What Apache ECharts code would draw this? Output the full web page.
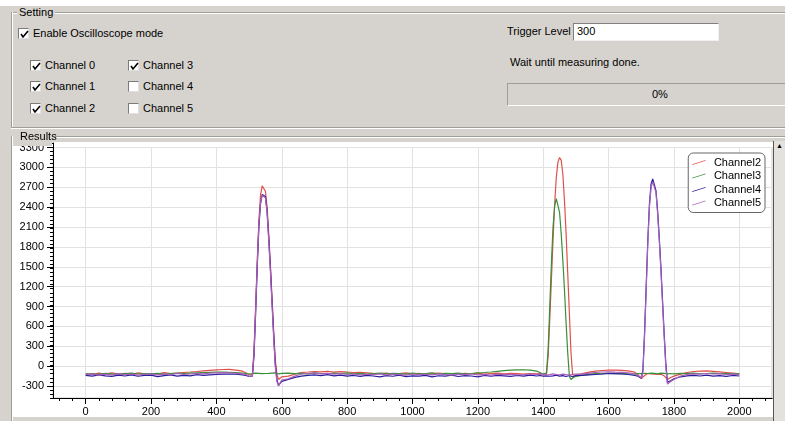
<!DOCTYPE html>
<html>
<head>
<meta charset="utf-8">
<script src="https://cdn.jsdelivr.net/npm/echarts@6/dist/echarts.min.js"></script>
<style>
  body { margin: 0; width: 785px; height: 421px; overflow: hidden; position: relative;
         background: #d6d3ce; font-family: "Liberation Sans", Arial, sans-serif; font-size: 11px; color: #000; }
  .abs { position: absolute; white-space: nowrap; }
  .hline { position: absolute; height: 0; border-top: 1px solid #a09e98; border-bottom: 1px solid #fff; }
  .vline { position: absolute; width: 0; border-left: 1px solid #a09e98; border-right: 1px solid #fff; }
  .cb { position: absolute; width: 11px; height: 11px; background: #fff; box-sizing: border-box;
        border: 1px solid #7a7a7a; border-right-color: #e0e0e0; border-bottom-color: #e0e0e0; }
  .cb svg { position: absolute; left: 1px; top: 1px; }
  .lbl { position: absolute; line-height: 13px; white-space: nowrap; }
</style>
</head>
<body>
<div class="abs" style="left:0;top:0;width:785px;height:6px;background:#fff"></div>

<!-- Setting group -->
<div class="hline" style="left:55px;top:12px;width:730px"></div>
<div class="hline" style="left:11px;top:12px;width:6px"></div>
<div class="vline" style="left:11px;top:12px;height:116px"></div>
<div class="hline" style="left:11px;top:127px;width:774px"></div>
<div class="lbl" style="left:19px;top:6px">Setting</div>

<div class="cb" style="left:18px;top:28px"><svg width="9" height="9"><polyline points="1,4 3,7 8,1" fill="none" stroke="#000" stroke-width="1.6"/></svg></div>
<div class="lbl" style="left:33px;top:27px">Enable Oscilloscope mode</div>

<div class="cb" style="left:30px;top:60px"><svg width="9" height="9"><polyline points="1,4 3,7 8,1" fill="none" stroke="#000" stroke-width="1.6"/></svg></div>
<div class="lbl" style="left:45px;top:59px">Channel 0</div>
<div class="cb" style="left:30px;top:81px"><svg width="9" height="9"><polyline points="1,4 3,7 8,1" fill="none" stroke="#000" stroke-width="1.6"/></svg></div>
<div class="lbl" style="left:45px;top:80px">Channel 1</div>
<div class="cb" style="left:30px;top:103px"><svg width="9" height="9"><polyline points="1,4 3,7 8,1" fill="none" stroke="#000" stroke-width="1.6"/></svg></div>
<div class="lbl" style="left:45px;top:102px">Channel 2</div>

<div class="cb" style="left:128px;top:60px"><svg width="9" height="9"><polyline points="1,4 3,7 8,1" fill="none" stroke="#000" stroke-width="1.6"/></svg></div>
<div class="lbl" style="left:143px;top:59px">Channel 3</div>
<div class="cb" style="left:128px;top:81px"></div>
<div class="lbl" style="left:143px;top:80px">Channel 4</div>
<div class="cb" style="left:128px;top:103px"></div>
<div class="lbl" style="left:143px;top:102px">Channel 5</div>

<div class="lbl" style="left:507px;top:25px">Trigger Level</div>
<div class="abs" style="left:573px;top:23px;width:146px;height:18px;background:#fff;box-sizing:border-box;border:1px solid #808080;border-right-color:#f0f0f0;border-bottom-color:#f0f0f0"></div>
<div class="lbl" style="left:577px;top:25px">300</div>
<div class="lbl" style="left:510px;top:56px">Wait until measuring done.</div>
<div class="abs" style="left:507px;top:83px;width:290px;height:23px;box-sizing:border-box;border:1px solid #a09e98;border-right-color:#fff;border-bottom-color:#fff"></div>
<div class="lbl" style="left:652px;top:88px">0%</div>

<!-- Results group -->
<div class="hline" style="left:55px;top:136px;width:730px"></div>
<div class="vline" style="left:11px;top:136px;height:285px"></div>

<div id="chart" class="abs" style="left:13px;top:142px;width:760px;height:275px;background:#fff"></div>
<!-- the group header hides the top of the highest y label -->
<div class="abs" style="left:13px;top:138px;width:39px;height:8px;background:#d6d3ce"></div>
<div class="lbl" style="left:20px;top:130px">Results</div>
<div class="abs" style="left:773px;top:141px;width:12px;height:280px;background:#e4e2dc;border-left:1px solid #555"></div>
<div class="abs" style="left:776px;top:142px;font-size:7px;line-height:8px">&#9650;</div>

<script>
// sample positions (x axis)
var xs = [
  0, 20, 40, 60, 80, 100, 120, 140, 160, 180, 200, 220, 240, 260, 280, 300, 320, 340, 360, 380, 400, 420, 440, 460, 480,
  490, 495, 500, 505, 510, 515, 520, 525, 530, 535, 540, 545, 550, 555, 560, 565, 570, 575, 580, 585, 590, 595, 600,
  620, 640, 660, 680, 700, 720, 740, 760, 780, 800, 820, 840, 860, 880, 900, 920, 940, 960, 980, 1000,
  1020, 1040, 1060, 1080, 1100, 1120, 1140, 1160, 1180, 1200, 1220, 1240, 1260, 1280, 1300, 1320, 1340, 1360, 1380,
  1390, 1395, 1400, 1405, 1410, 1415, 1420, 1425, 1430, 1435, 1440, 1445, 1450, 1455, 1460, 1465, 1470, 1475, 1480, 1485, 1490, 1495, 1500,
  1520, 1540, 1560, 1580, 1600, 1620, 1640, 1660, 1680,
  1690, 1695, 1700, 1705, 1710, 1715, 1720, 1725, 1730, 1735, 1740, 1745, 1750, 1755, 1760, 1765, 1770, 1775, 1780, 1785, 1790,
  1800, 1820, 1840, 1860, 1880, 1900, 1920, 1940, 1960, 1980, 2000
];

var ch2 = [
  -110, -125, -105, -120, -100, -118, -108, -125, -102, -115, -110, -120, -98, -112, -105, -95, -88, -80, -70, -62, -55, -50, -48, -58, -75,
  -100, -110, -125, -135, -130, 250, 900, 1600, 2200, 2580, 2720, 2730, 2640, 2400, 2000, 1550, 1050, 550, 100, -120, -200, -190, -160,
  -150, -120, -95, -88, -80, -85, -78, -90, -82, -88, -95, -92, -100, -108, -112, -105, -118, -110, -102, -115,
  -108, -120, -112, -105, -116, -110, -122, -108, -114, -104, -118, -110, -106, -115, -108, -112, -120, -110, -115,
  -110, -118, -125, -130, -120, 150, 700, 1300, 1900, 2450, 2850, 3080, 3150, 3110, 2900, 2500, 2000, 1400, 800, 200, -130, -150, -140,
  -110, -90, -75, -65, -60, -58, -62, -70, -90,
  -130, -160, -185, -160, -140, -120, -110, -125, -118, -115, -120, -112, -125, -118, -122, -130, -145, -165, -200, -210, -170,
  -150, -120, -95, -80, -75, -72, -78, -85, -95, -105, -115
];

var ch3 = [
  -118, -110, -122, -108, -115, -120, -112, -105, -118, -110, -116, -108, -120, -112, -106, -110, -104, -100, -96, -92, -90, -88, -92, -98, -105,
  -110, -105, -118, -108, -112, -100, -105, -115, -108, -102, -112, -104, -110, -100, -108, -96, -104, -110, -100, -112, -115, -106, -108,
  -105, -112, -108, -115, -102, -110, -118, -106, -112, -100, -115, -108, -120, -110, -104, -116, -108, -112, -120, -106,
  -114, -110, -102, -118, -108, -112, -104, -115, -110, -100, -95, -88, -78, -68, -60, -55, -54, -60, -75,
  -95, -105, -120, -125, -100, 250, 900, 1550, 2100, 2420, 2530, 2500, 2320, 2000, 1600, 1150, 650, 200, -150, -200, -180, -160, -150,
  -135, -120, -110, -115, -105, -112, -108, -115, -120,
  -110, -104, -112, -106, -108, -115, -110, -104, -105, -112, -108, -102, -115, -110, -106, -112, -108, -114, -115, -108, -110,
  -115, -108, -112, -106, -114, -110, -104, -112, -108, -115, -110
];

var ch4 = [
  -138, -150, -132, -145, -155, -136, -148, -130, -152, -140, -135, -158, -142, -130, -150, -138, -145, -128, -140, -132, -125, -120, -118, -122, -130,
  -140, -145, -155, -160, -150, 150, 800, 1500, 2100, 2450, 2590, 2615, 2560, 2350, 1950, 1500, 1000, 500, 50, -200, -290, -260, -230,
  -200, -168, -150, -138, -130, -142, -128, -145, -135, -150, -140, -155, -138, -148, -160, -142, -152, -136, -158, -145,
  -150, -138, -162, -144, -150, -135, -156, -142, -148, -160, -140, -152, -138, -146, -155, -140, -150, -136, -148,
  -140, -148, -150, -142, -145, -138, -152, -140, -146, -148, -135, -142, -150, -144, -142, -150, -155, -148, -140, -150, -160, -150, -140,
  -140, -132, -125, -118, -110, -112, -118, -125, -140,
  -150, -165, -180, -60, 500, 1200, 1900, 2450, 2750, 2825, 2800, 2650, 2350, 1950, 1500, 1000, 500, 50, -240, -270, -220,
  -190, -160, -145, -138, -148, -135, -150, -142, -155, -140, -148
];

var ch5 = [
  -125, -115, -135, -120, -130, -112, -128, -118, -136, -122, -114, -130, -120, -126, -110, -124, -118, -108, -115, -105, -100, -98, -102, -108, -115,
  -125, -135, -150, -165, -155, 180, 850, 1550, 2150, 2470, 2580, 2600, 2540, 2320, 1900, 1450, 950, 450, 0, -230, -300, -250, -210,
  -190, -150, -118, -110, -102, -115, -108, -120, -112, -125, -118, -130, -122, -128, -115, -132, -120, -126, -135, -118,
  -128, -122, -130, -116, -126, -134, -120, -128, -118, -130, -124, -136, -120, -128, -122, -130, -126, -118, -124,
  -125, -120, -118, -126, -130, -122, -128, -120, -116, -124, -125, -130, -132, -126, -120, -124, -128, -134, -135, -130, -122, -126, -120,
  -120, -105, -95, -88, -85, -90, -92, -100, -115,
  -140, -160, -175, -90, 450, 1150, 1850, 2400, 2700, 2785, 2770, 2620, 2300, 1900, 1450, 950, 450, 0, -270, -290, -230,
  -200, -150, -125, -115, -120, -110, -118, -112, -125, -120, -128
];

var names = ['Channel2', 'Channel3', 'Channel4', 'Channel5'];
var colors = ['#e0504a', '#3a8f3a', '#2a1ca0', '#a860b8'];
var values = [ch2, ch3, ch4, ch5];

// labelled (major) ticks
var xTicks = [0, 200, 400, 600, 800, 1000, 1200, 1400, 1600, 1800, 2000];
var yTicks = [-300, 0, 300, 600, 900, 1200, 1500, 1800, 2100, 2400, 2700, 3000, 3300];

// minor tick positions between the labels
var xMinor = [];
for (var mx = -80; mx <= 2080; mx += 40) xMinor.push(mx);
var yMinor = [];
for (var my = -480; my <= 3300; my += 60) yMinor.push(my);

var series = [];
for (var s = 0; s < names.length; s++) {
  var pts = [];
  for (var i = 0; i < xs.length; i++) {
    pts.push([xs[i], values[s][i]]);
  }
  series.push({
    name: names[s],
    type: 'line',
    data: pts,
    symbol: 'none',
    color: colors[s],
    lineStyle: { width: 1.2, color: colors[s] }
  });
}

var plain = function (v) { return String(v); };
var gridRect = { left: 40, right: 1, top: 1, bottom: 19 };

var myChart = echarts.init(document.getElementById('chart'));
var option = {
  animation: false,
  textStyle: { fontFamily: '"Liberation Sans", Arial, sans-serif', fontSize: 11 },
  grid: [
    Object.assign({ show: true, borderColor: '#c8c8c8', borderWidth: 1 }, gridRect),
    Object.assign({}, gridRect)
  ],
  legend: {
    orient: 'vertical',
    right: 8,
    top: 11,
    data: names,
    icon: 'path://M0,5 L16,0 L16,1 L0,6 Z',
    itemWidth: 16,
    itemHeight: 5,
    itemGap: 2.5,
    padding: [4, 4, 4, 4],
    backgroundColor: '#fff',
    borderColor: '#666',
    borderWidth: 1,
    borderRadius: 5,
    textStyle: { color: '#000', fontSize: 11, padding: [0, 0, 0, 2] }
  },
  xAxis: [{
    gridIndex: 0,
    type: 'value',
    min: -100,
    max: 2100,
    interval: 100,
    axisLine: { onZero: false, lineStyle: { color: '#000' } },
    axisTick: { length: 6, customValues: xTicks, lineStyle: { color: '#000' } },
    axisLabel: { color: '#000', margin: 8, fontSize: 11, customValues: xTicks, formatter: plain },
    splitLine: { lineStyle: { color: '#e2e2e2' } }
  }, {
    gridIndex: 1,
    type: 'value',
    min: -100,
    max: 2100,
    interval: 100,
    axisLine: { onZero: false, lineStyle: { color: '#000' } },
    axisTick: { length: 3, customValues: xMinor, lineStyle: { color: '#000' } },
    axisLabel: { show: false },
    splitLine: { show: false }
  }],
  yAxis: [{
    gridIndex: 0,
    type: 'value',
    min: -480,
    max: 3300,
    interval: 60,
    axisLine: { onZero: false, lineStyle: { color: '#000' } },
    axisTick: { length: 6, customValues: yTicks, lineStyle: { color: '#000' } },
    axisLabel: { color: '#000', margin: 9, fontSize: 11, customValues: yTicks, formatter: plain },
    splitLine: { lineStyle: { color: '#e2e2e2' } }
  }, {
    gridIndex: 1,
    type: 'value',
    min: -480,
    max: 3300,
    interval: 60,
    axisLine: { onZero: false, lineStyle: { color: '#000' } },
    axisTick: { length: 3, customValues: yMinor, lineStyle: { color: '#000' } },
    axisLabel: { show: false },
    splitLine: { show: false }
  }],
  series: series
};
myChart.setOption(option);
window.onresize = myChart.resize;
</script>
</body>
</html>
